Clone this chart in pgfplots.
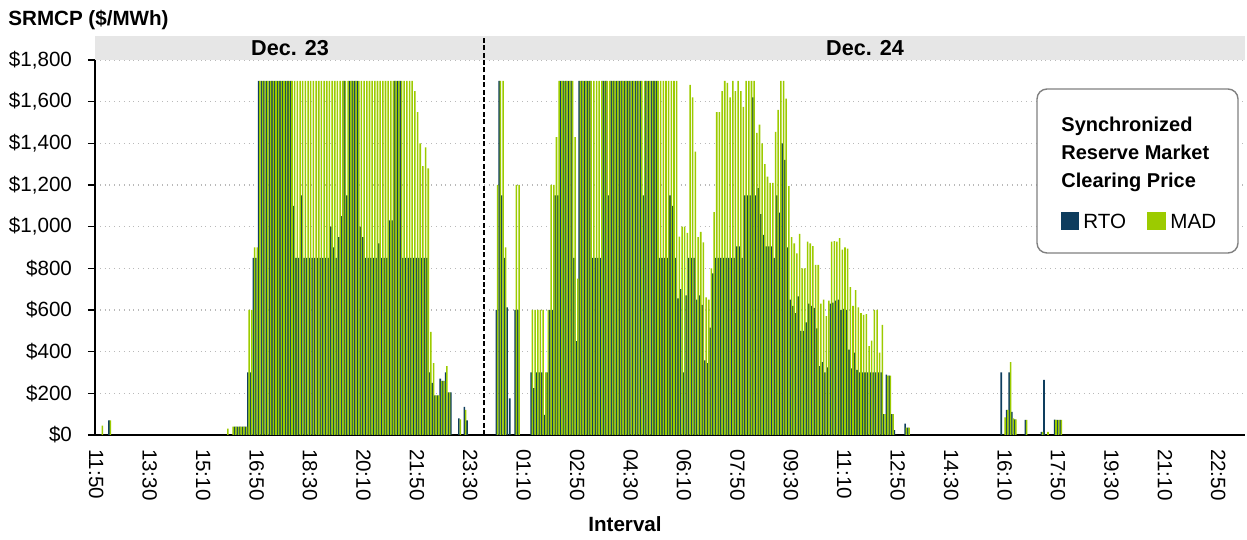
\documentclass[border=0pt]{standalone}
\usepackage{pgfplots}
\pgfplotsset{compat=1.18}
\usepackage{pgfplotstable}
\usepackage{fontspec}
\setmainfont{Liberation Sans}

\definecolor{rto}{RGB}{14,61,94}
\definecolor{mad}{RGB}{156,203,0}
\definecolor{band}{RGB}{230,230,230}

% interval index: 0 = Dec 23 11:50, one step = 5 minutes
\pgfplotstableread{
i rto mad
2 0 45
5 70 70
49 0 30
51 0 40
52 40 40
53 40 40
54 40 40
55 40 40
56 40 40
57 300 600
58 300 600
59 850 900
60 850 900
61 1700 1700
62 1700 1700
63 1700 1700
64 1700 1700
65 1700 1700
66 1700 1700
67 1700 1700
68 1700 1700
69 1700 1700
70 1700 1700
71 1700 1700
72 1700 1700
73 1700 1700
74 1100 1700
75 850 1700
76 850 1700
77 1150 1700
78 850 1700
79 850 1700
80 850 1700
81 850 1700
82 850 1700
83 850 1700
84 850 1700
85 850 1700
86 850 1700
87 850 1700
88 1000 1700
89 900 1700
90 850 1700
91 950 1700
92 1050 1700
93 1700 1700
94 1150 1700
95 1700 1700
96 1700 1700
97 1700 1700
98 1700 1700
99 1000 1700
100 950 1700
101 850 1700
102 850 1700
103 850 1700
104 850 1700
105 850 1700
106 920 1700
107 850 1700
108 850 1700
109 850 1700
110 1030 1700
111 1030 1700
112 1700 1700
113 1700 1700
114 1700 1700
115 850 1700
116 850 1700
117 850 1700
118 850 1700
119 850 1650
120 850 1550
121 850 1400
122 850 1290
123 850 1380
124 850 1280
125 300 495
126 250 345
127 190 190
128 190 190
129 270 260
130 260 260
131 300 330
132 205 205
133 205 0
136 80 75
138 135 120
139 70 0
150 600 1200
151 1700 1700
152 1150 1700
153 850 900
154 613 0
155 176 0
157 600 1200
158 600 1200
163 300 600
164 225 600
165 300 600
166 300 600
167 300 600
168 96 300
169 300 600
170 600 1200
171 600 1200
172 1150 1430
173 1150 1700
174 1700 1700
175 1700 1700
176 1700 1700
177 1700 1700
178 1700 1700
179 850 1430
180 450 750
181 1700 1700
182 1700 1700
183 1700 1700
184 1700 1700
185 1700 1700
186 850 1700
187 850 1700
188 850 1700
189 850 1700
190 1700 1700
191 1700 1700
192 1150 1700
193 1700 1700
194 1700 1700
195 1700 1700
196 1700 1700
197 1700 1700
198 1700 1700
199 1700 1700
200 1700 1700
201 1700 1700
202 1700 1700
203 1700 1700
204 1700 1700
205 1150 1700
206 1700 1700
207 1700 1700
208 1700 1700
209 1700 1700
210 1700 1700
211 850 1700
212 850 1700
213 850 1700
214 850 1700
215 1150 1700
216 1100 1700
217 850 1700
218 656 952
219 700 1000
220 300 1000
221 670 970
222 850 1680
223 850 1620
224 850 1360
225 650 950
226 670 975
227 624 925
228 358 660
229 345 650
230 515 800
231 776 1070
232 850 1550
233 850 1550
234 850 1650
235 850 1700
236 850 1690
237 850 1620
238 850 1700
239 850 1650
240 905 1700
241 905 1650
242 850 1575
243 1150 1700
244 1150 1700
245 1150 1700
246 1620 1700
247 1150 1450
248 1185 1490
249 1060 1400
250 960 1300
251 905 1240
252 905 1210
253 905 1210
254 850 1455
255 1150 1560
256 1067 1700
257 1400 1700
258 1320 1615
259 900 1195
260 650 950
261 620 920
262 585 872
263 665 965
264 500 800
265 500 800
266 540 928
267 630 920
268 620 907
269 610 816
270 512 816
271 330 630
272 350 650
273 300 570
274 325 645
275 630 928
276 635 930
277 645 928
278 650 945
279 600 890
280 605 900
281 600 895
282 410 710
283 320 620
284 395 695
285 312 613
286 300 585
287 300 577
288 300 580
289 300 427
290 300 453
291 300 600
292 300 600
293 300 395
294 300 528
295 100 100
296 290 285
297 285 285
298 100 100
299 23 0
303 55 35
304 35 35
339 300 0
340 0 84
341 120 120
342 300 350
343 111 80
344 75 75
348 73 73
354 15 15
355 265 0
356 0 15
359 74 72
360 72 72
361 72 72
}\srmcp

\begin{document}
\begin{tikzpicture}
\begin{axis}[
  at={(0,0)}, anchor=south west,
  width=575pt, height=187.5pt, scale only axis,
  xmin=-0.5, xmax=430, ymin=0, ymax=1800,
  axis x line*=bottom, axis y line*=left,
  axis line style={-, line width=0.8pt},
  xtick={0,20,...,420},
  xticklabels={11:50,13:30,15:10,16:50,18:30,20:10,21:50,23:30,01:10,02:50,04:30,06:10,07:50,09:30,11:10,12:50,14:30,16:10,17:50,19:30,21:10,22:50},
  xticklabel style={rotate=-90, anchor=west},
  x tick style={draw=none},
  ytick={0,200,...,1800},
  yticklabels={\$0,\$200,\$400,\$600,\$800,{\$1,000},{\$1,200},{\$1,400},{\$1,600},{\$1,800}},
  yticklabel style={xshift=-4.5pt},
  tick align=outside, major tick length=3.5pt,
  y tick style={black, line width=0.8pt},
  ymajorgrids, grid style={dotted, gray!55, line width=0.6pt},
  ticklabel style={font=\fontsize{10.3}{12}\selectfont},
  clip=false,
]
\addplot[ybar, bar width=0.58, bar shift=-0.25, fill=rto, draw=none] table[x=i, y=rto]{\srmcp};
\addplot[ybar, bar width=0.58, bar shift=0.25, fill=mad, draw=none] table[x=i, y=mad]{\srmcp};

% day header band and midnight separator
\fill[band] (axis cs:-0.5,1800) rectangle (axis cs:430,1915);
\draw[dash pattern=on 2.5pt off 1.2pt, line width=1pt] (axis cs:145,0) -- (axis cs:145,1915);
\node[font=\bfseries\fontsize{10.8}{12}\selectfont] at (axis cs:72.5,1857) {Dec. 23};
\node[font=\bfseries\fontsize{10.8}{12}\selectfont] at (axis cs:287.75,1857) {Dec. 24};
\end{axis}

% axis titles
\node[anchor=base west, inner sep=0, font=\bfseries\fontsize{10.3}{12}\selectfont] at (-43.5pt,204.5pt) {SRMCP (\$/MWh)};
\node[anchor=base, inner sep=0, font=\bfseries\fontsize{10.3}{12}\selectfont] at (265pt,-48.5pt) {Interval};

% legend
\draw[rounded corners=5pt, draw=gray, line width=0.7pt, fill=white] (471pt,91pt) rectangle (571.5pt,173pt);
\node[anchor=base west, inner sep=0, font=\bfseries\fontsize{10}{12}\selectfont] at (483pt,151.5pt) {Synchronized};
\node[anchor=base west, inner sep=0, font=\bfseries\fontsize{10}{12}\selectfont] at (483pt,137.5pt) {Reserve Market};
\node[anchor=base west, inner sep=0, font=\bfseries\fontsize{10}{12}\selectfont] at (483pt,123.5pt) {Clearing Price};
\fill[rto] (483pt,102.5pt) rectangle (492pt,111.5pt);
\node[anchor=base west, inner sep=0, font=\fontsize{10.3}{12}\selectfont] at (494pt,103pt) {RTO};
\fill[mad] (526pt,102.5pt) rectangle (535.5pt,111.5pt);
\node[anchor=base west, inner sep=0, font=\fontsize{10.3}{12}\selectfont] at (537.5pt,103pt) {MAD};

\pgfresetboundingbox
\path (-47.5pt,-52.5pt) rectangle (576pt,217.5pt);
\end{tikzpicture}
\end{document}
